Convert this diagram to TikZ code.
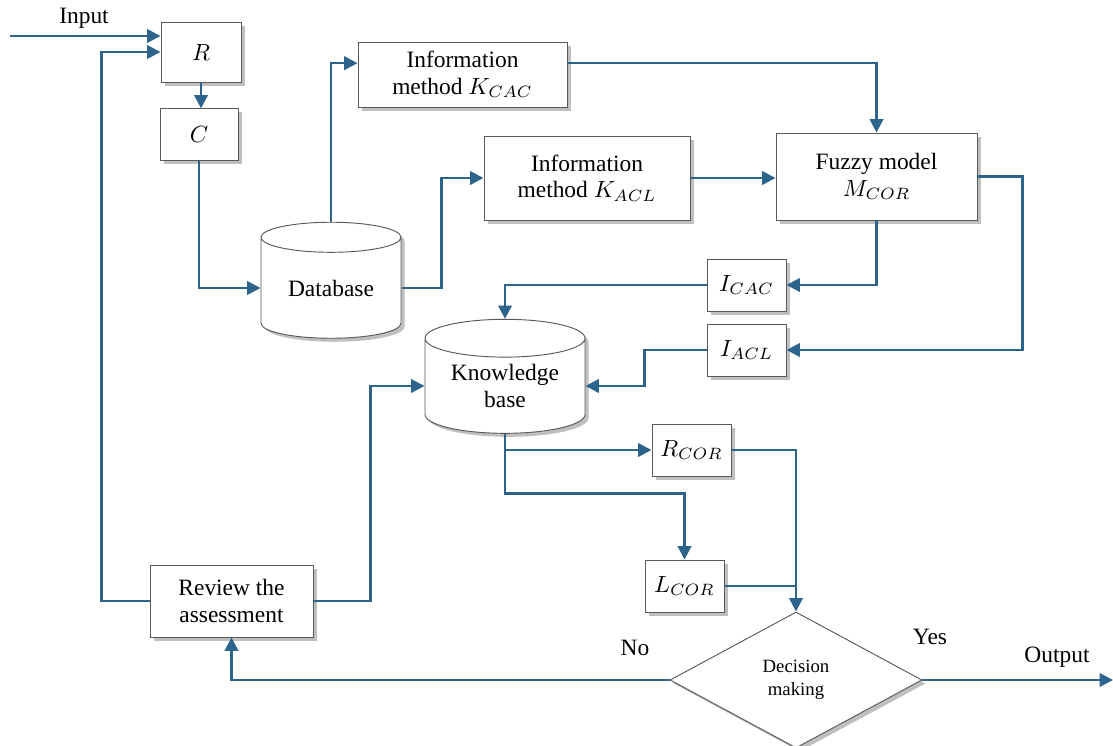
\documentclass[tikz,border=0pt]{standalone}
\usepackage{fontspec}
\setmainfont{Liberation Serif}
\usepackage{tikz}
\usetikzlibrary{arrows.meta, positioning, shapes.geometric, shadows}
\definecolor{flowblue}{RGB}{45,100,140}

\begin{document}
\begin{tikzpicture}[
	x=0.015cm, y=-0.015cm,
	every node/.style={font=\fontsize{10}{11.5}\selectfont},
	block/.style={draw=black!65, fill=white, align=center, inner sep=0pt,
		drop shadow={shadow xshift=1.5pt, shadow yshift=-1.5pt, fill=black, opacity=0.25}},
	small/.style={block, minimum width=1.185cm, minimum height=0.78cm},
	store/.style={draw=black!65, fill=white, cylinder, shape border rotate=90, aspect=0.35,
		align=center, inner sep=0pt,
		drop shadow={shadow xshift=1.5pt, shadow yshift=-1.5pt, fill=black, opacity=0.25}},
	choice/.style={draw=black!65, fill=white, diamond, align=center, inner sep=0pt,
		drop shadow={shadow xshift=1.5pt, shadow yshift=-1.5pt, fill=black, opacity=0.25}},
	arrow/.style={-{Triangle[length=2mm,width=2mm]}, flowblue, line width=1.1pt},
	link/.style={flowblue, line width=1.1pt}
	]
	\useasboundingbox (0,0) rectangle (1113,746);
	
	% Input side
	\node[block, minimum width=1.2cm, minimum height=0.9cm] (r) at (201,52) {$R$};
	\node[block, minimum width=1.17cm, minimum height=0.77cm] (c) at (199,134.5) {$C$};
	\coordinate (in) at (10,36);
	\node (inlabel) at (84,18) {Input};
	
	% Stores
	\node[store, minimum width=2.1cm, minimum height=1.74cm] (db) at (331,288) {Database};
	\node[store, minimum width=2.4cm, minimum height=1.71cm] (kb) at (505,386) {Knowledge\\base};
	
	% Methods and model
	\node[block, minimum width=3.135cm, minimum height=0.975cm] (kcac) at (462.5,74.5) {Information\\method $K_{CAC}$};
	\node[block, minimum width=3.09cm, minimum height=1.26cm] (kacl) at (587,178) {Information\\method $K_{ACL}$};
	\node[block, minimum width=3.015cm, minimum height=1.305cm] (fuzzy) at (876.5,176.5) {Fuzzy model\\$M_{COR}$};
	\node[small] (icac) at (746.5,285) {$I_{CAC}$};
	\node[small] (iacl) at (746.5,350) {$I_{ACL}$};
	
	% Results and decision
	\node[small] (rcor) at (691.5,450) {$R_{COR}$};
	\node[small] (lcor) at (684.5,586) {$L_{COR}$};
	\node[block, minimum width=2.445cm, minimum height=1.08cm] (review) at (231.5,601) {Review the\\assessment};
	\node[choice, minimum width=3.78cm, minimum height=2.04cm, font=\fontsize{8}{10}\selectfont] (dm) at (796,680) {Decision\\making};
	\coordinate (out) at (1113,680);
	\node (outlabel) at (1057,657) {Output};
	\node (yes) at (930,637) {Yes};
	\node (no) at (635,648) {No};
	
	% Connections
	\draw[arrow] (in) -- (r.west |- in);
	\draw[arrow] (review.west) -- ++(-48,0) |- (r.west);
	\draw[arrow] (r.south) -- (r.south |- c.north);
	\draw[arrow] (c.south) |- (db.west);
	\draw[arrow] (db.north) |- ([yshift=0.17cm]kcac.west);
	\draw[arrow] ([yshift=0.17cm]kcac.east) -| (fuzzy.north);
	\draw[arrow] (db.east) -- ++(40,0) |- (kacl.west);
	\draw[arrow] (kacl.east) -- (kacl.east -| fuzzy.west);
	\draw[arrow] (fuzzy.south) |- (icac.east);
	\draw[arrow] (fuzzy.east) -- ++(45,0) |- (iacl.east);
	\draw[arrow] (icac.west) -| (kb.north);
	\draw[arrow] (iacl.west) -- ++(-62,0) |- (kb.east);
	\draw[arrow] (review.east) -- ++(57,0) |- (kb.west);
	\draw[arrow] (kb.south) |- (rcor.west);
	\draw[arrow] (kb.south) -- ++(0,60) -| (lcor.north);
	\draw[arrow] (rcor.east) -| (dm.north);
	\draw[link] (lcor.east) -- (lcor.east -| dm.north);
	\draw[arrow] (dm.east) -- (out);
	\draw[arrow] (dm.west) -| (review.south);
	
\end{tikzpicture}
\end{document}
